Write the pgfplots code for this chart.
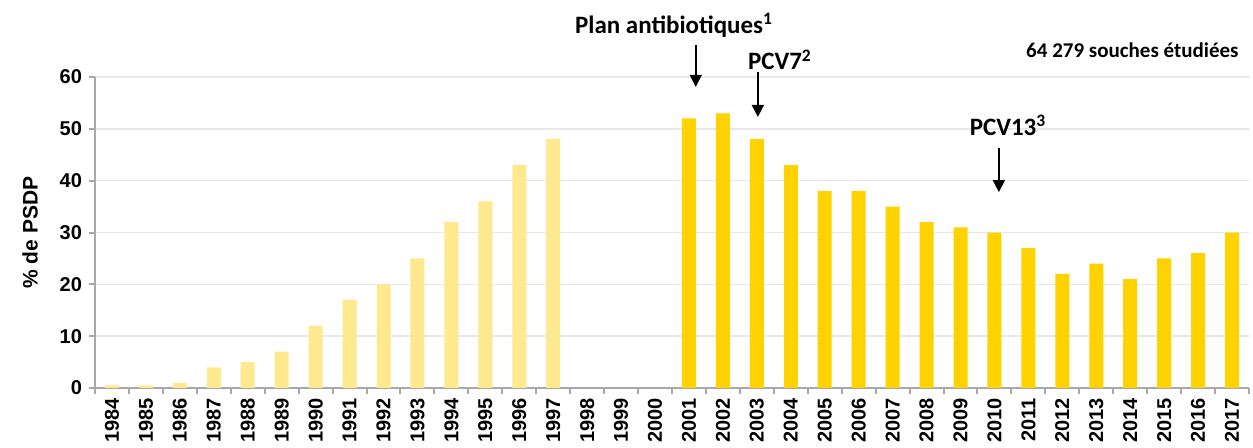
\documentclass[border=0pt]{standalone}
\usepackage{pgfplots}
\pgfplotsset{compat=1.18}
\usepackage{pgfplotstable}
\usepackage{fontspec}
\setmainfont{Liberation Sans}
\newfontfamily\carlito{Carlito}
\usetikzlibrary{calc,arrows.meta}
\definecolor{light}{HTML}{FFE98F}
\definecolor{dark}{HTML}{FFD200}
\definecolor{axgray}{HTML}{A8A8A8}
\definecolor{gridgray}{HTML}{E8E8E8}

\pgfplotstableread{
x y
0 0.5
1 0.5
2 1
3 4
4 5
5 7
6 12
7 17
8 20
9 25
10 32
11 36
12 43
13 48
}\early
\pgfplotstableread{
x y
17 52
18 53
19 48
20 43
21 38
22 38
23 35
24 32
25 31
26 30
27 27
28 22
29 24
30 21
31 25
32 26
33 30
}\late

\begin{document}
\begin{tikzpicture}
\begin{axis}[name=ax, at={(0,0)}, anchor=south west,
  scale only axis, width=577pt, height=155.5pt,
  xmin=-0.5, xmax=33.5, ymin=0, ymax=60,
  clip=false,
  axis x line*=bottom, axis y line*=left,
  axis line style={draw=axgray, line width=1pt, -},
  ytick={0,10,...,60},
  ymajorgrids, grid style={gridgray, line width=0.8pt},
  xtick={0,...,33},
  xticklabels={1984,1985,1986,1987,1988,1989,1990,1991,1992,1993,1994,1995,1996,1997,1998,1999,2000,2001,2002,2003,2004,2005,2006,2007,2008,2009,2010,2011,2012,2013,2014,2015,2016,2017},
  x tick label style={rotate=90, anchor=east, inner sep=2pt, font=\bfseries\fontsize{10}{12}\selectfont},
  y tick label style={font=\bfseries\fontsize{10}{11}\selectfont},
  /pgf/number format/assume math mode=true,
  major x tick style={draw=none},
  minor xtick={-0.5,0.5,...,33.5},
  tick style={draw=axgray, line width=1pt},
  major tick length=3pt, minor tick length=3pt,
  tick align=outside,
  ylabel={\% de PSDP},
  ylabel style={at={(axis description cs:-0.0563,0.5)}, anchor=center, font=\bfseries\fontsize{10.5}{12}\selectfont},
]
\addplot[ybar, bar width=7pt, bar shift=0pt, fill=light, draw=none] table {\early};
\addplot[ybar, bar width=7pt, bar shift=0pt, fill=dark, draw=none] table {\late};

\node[font=\carlito\bfseries\fontsize{12.5}{14}\selectfont] at (axis cs:16.56,70) {Plan antibiotiques\textsuperscript{1}};
\draw[-{Triangle[width=6pt,length=6pt]}, line width=0.8pt] (axis cs:17.2,66.2) -- (axis cs:17.2,58.1);
\node[font=\carlito\bfseries\fontsize{12.5}{14}\selectfont] at (axis cs:19.68,63.3) {PCV7\textsuperscript{2}};
\draw[-{Triangle[width=6pt,length=6pt]}, line width=0.8pt] (axis cs:19.03,61.0) -- (axis cs:19.03,52.3);
\node[font=\carlito\bfseries\fontsize{12.5}{14}\selectfont] at (axis cs:26.4,50.7) {PCV13\textsuperscript{3}};
\draw[-{Triangle[width=6pt,length=6pt]}, line width=0.8pt] (axis cs:26.13,46.3) -- (axis cs:26.13,37.8);
\node[anchor=east, font=\carlito\bfseries\fontsize{10.5}{12}\selectfont] at (axis cs:33.4,65.2) {64 279 souches étudiées};
\end{axis}
\pgfresetboundingbox
\path[use as bounding box] ($(ax.south west)+(-47.5pt,-30pt)$) rectangle ($(ax.north east)+(2pt,38.5pt)$);
\end{tikzpicture}
\end{document}
